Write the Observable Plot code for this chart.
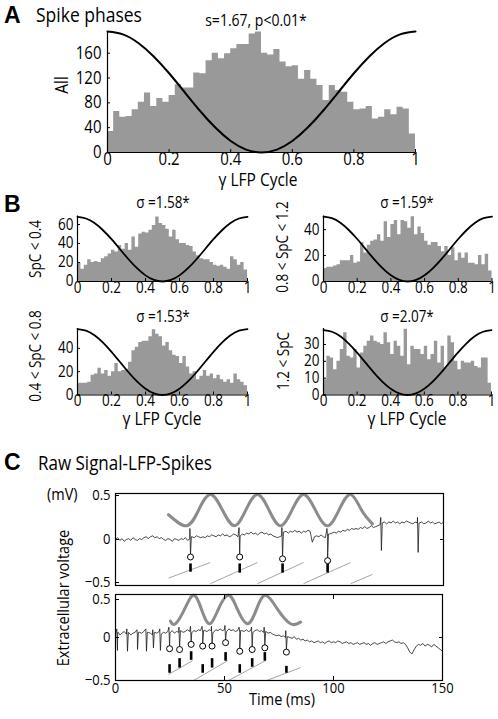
<!DOCTYPE html>
<html><head><meta charset="utf-8">
<script src="https://cdn.jsdelivr.net/npm/d3@7"></script>
<script src="https://cdn.jsdelivr.net/npm/@observablehq/plot@0.6"></script>
<style>
body{margin:0;background:#fff;}
#fig{position:relative;width:498px;height:719px;overflow:hidden;background:#fff;}
#fig svg{position:absolute;left:0;}
</style></head><body><div id="fig"></div>
<script>
// ---------------- DATA ----------------
const phaseTicks = [0, 0.2, 0.4, 0.6, 0.8, 1];
// Panel A: spike phase histogram (50 bins), all spikes
const countsAll = [34,66,57,58,69,81,96,74,87,81,92,109,104,104,128,127,148,160,151,159,167,174,174,191,194,160,157,166,146,138,140,118,132,118,108,84,108,100,97,81,69,70,74,54,57,69,61,73,70,30];
const ticksAll = [0, 40, 80, 120, 160];
// Panel B histograms
const countsSpC04 = [20,13,17,23,20,21,20,24,26,29,33,31,38,34,40,33,47,36,50,52,51,54,59,68,61,59,55,47,54,44,40,40,38,37,31,27,24,23,23,20,17,16,17,15,13,26,23,17,20,12];
const countsSpC0812 = [10,11,11,12,13,16,16,16,20,14,15,30,22,28,31,32,36,31,46,34,44,47,36,47,46,41,50,36,42,37,31,28,30,30,27,23,27,20,26,16,22,18,22,14,14,13,20,13,21,8];
const countsSpC0408 = [10,10,10,11,17,18,23,18,21,16,20,27,20,21,22,28,38,41,45,46,46,50,56,52,50,42,45,38,34,33,27,33,24,18,20,13,16,21,16,18,14,17,13,11,13,10,18,13,11,8];
const countsSpC12 = [9,23,22,15,20,27,37,23,22,27,16,25,29,32,35,32,31,30,37,31,24,32,29,23,39,18,29,27,27,24,29,21,24,32,19,29,16,35,31,20,15,20,19,19,20,17,16,22,22,7];
const ticksSpC04 = [0, 20, 40, 60];
const ticksSpC0812 = [0, 20, 40];
const ticksSpC0408 = [0, 20, 40];
const ticksSpC12 = [0, 10, 20, 30];
// reference gamma cycle curve, read at phase steps of 0.05 (relative height)
const cycleShape = [1,0.976,0.905,0.794,0.655,0.5,0.345,0.206,0.095,0.024,0,0.024,0.095,0.206,0.345,0.5,0.655,0.794,0.905,0.976,1];
const cyclePeaks = {all: 195, spc04: 68, spc0812: 50, spc0408: 56.5, spc12: 38.5};

// Panel C, top: raw signal (hundredths of mV, 1 ms steps, 0..150 ms)
const rawTop = [0,2,-1,1,-2,0,1,-1,2,0,-1,1,0,2,3,1,3,4,2,3,1,2,0,-1,1,0,-2,1,0,-1,1,0,2,-1,1,3,2,4,3,2,3,2,4,3,5,4,3,5,4,6,4,5,3,4,6,5,3,4,6,5,7,6,8,6,7,5,7,8,6,7,5,6,4,3,2,3,4,8,9,7,9,8,10,8,9,7,9,8,10,9,-3,3,4,3,5,3,2,3,6,7,8,7,9,8,10,9,11,10,12,11,12,11,13,12,14,12,13,15,13,14,15,16,18,19,17,19,18,20,18,19,17,19,18,20,19,18,17,19,18,18,19,17,18,20,18,19,17,18,19,17,19];
const spikeTopT  = [34.3, 56.8, 76.4, 97.0, 121.6, 138.4];
const spikeTopHi = [0.12, 0.13, 0.13, 0.12, 0.24, 0.24];
const spikeTopLo = [-0.16, -0.16, -0.18, -0.2, -0.12, -0.14];
const markTopT   = [34.3, 56.8, 76.4, 97.0];
const markTopV   = [-0.19, -0.19, -0.21, -0.23];
const barTopLo   = [-0.35, -0.36, -0.36, -0.36];
const barTopHi   = [-0.26, -0.26, -0.26, -0.26];
const lfpTopT = [24.2,32.5,38,43.4,48.9,54.4,59.6,64.9,70.2,75.4,80.7,86.0,91.4,96.9,102.2,107.5,112.5,117.5];
const lfpTopV = [0.27,0.15,0.32,0.49,0.32,0.15,0.32,0.49,0.32,0.15,0.32,0.49,0.32,0.15,0.32,0.49,0.32,0.17];
const rampTopT0 = [24.2, 43.4, 64.9, 86.0, 107.5];
const rampTopV0 = [-0.42, -0.48, -0.48, -0.48, -0.48];
const rampTopT1 = [43.4, 64.9, 86.0, 107.5, 117.5];
const rampTopV1 = [-0.25, -0.25, -0.25, -0.25, -0.38];

// Panel C, bottom
const rawBot = [4,6,3,5,7,4,6,3,5,6,4,6,5,7,4,6,5,3,6,5,7,4,6,5,7,6,8,5,7,6,8,6,7,9,7,6,8,7,9,8,6,8,7,9,8,6,9,8,10,8,9,7,10,8,9,7,8,6,8,7,9,7,8,6,8,9,7,8,6,7,5,6,4,3,2,3,1,2,0,1,0,-1,1,-2,-1,-3,-2,-4,-3,-5,-4,-6,-5,-4,-6,-5,-7,-5,-4,-6,-5,-6,-4,-5,-7,-6,-5,-7,-6,-8,-7,-6,-8,-7,-6,-8,-7,-9,-7,-6,-8,-7,-6,-5,-7,-5,-4,-3,-5,-6,-5,-7,-6,-8,-12,-17,-19,-14,-10,-8,-9,-7,-10,-8,-9,-11,-8,-10,-12,-14,-16];
const spikeBotT  = [0.9, 5.5, 10.1, 14.2, 17.4, 20.6, 24.8, 29.4, 34.7, 40.0, 44.3, 50.5, 57.0, 62.7, 68.5, 78.4];
const spikeBotHi = [0.1, 0.1, 0.09, 0.1, 0.09, 0.1, 0.12, 0.12, 0.13, 0.13, 0.13, 0.14, 0.12, 0.12, 0.12, 0.08];
const spikeBotLo = [-0.15, -0.16, -0.14, -0.16, -0.12, -0.15, -0.1, -0.11, -0.05, -0.07, -0.07, -0.03, -0.13, -0.11, -0.09, -0.14];
const markBotT   = [24.8, 29.4, 34.7, 40.0, 44.3, 50.5, 57.0, 62.7, 68.5, 78.4];
const markBotV   = [-0.13, -0.14, -0.08, -0.1, -0.1, -0.06, -0.16, -0.14, -0.12, -0.17];
const barBotLo   = [-0.41, -0.35, -0.26, -0.41, -0.35, -0.27, -0.41, -0.34, -0.27, -0.41];
const barBotHi   = [-0.31, -0.24, -0.16, -0.31, -0.24, -0.17, -0.31, -0.24, -0.17, -0.33];
const lfpBotT = [25.2,27.5,31.7,35.8,39.4,43.1,47.2,51.8,55.9,60.6,64.7,68.8,74.3,80.3,84.9];
const lfpBotV = [0.19,0.16,0.33,0.49,0.33,0.16,0.33,0.49,0.33,0.16,0.33,0.49,0.33,0.16,0.18];
const rampBotT0 = [24.3, 35.8, 51.8, 69.3];
const rampBotV0 = [-0.43, -0.5, -0.5, -0.5];
const rampBotT1 = [35.3, 51.4, 68.8, 84.9];
const rampBotV1 = [-0.27, -0.27, -0.27, -0.35];
const timeTicks = [0, 50, 100, 150];
const voltTicks = [-0.5, 0, 0.5];

// ---------------- DRAW ----------------
const W = 498;
const fig = document.getElementById("fig");
const FONT = '"Open Sans", sans-serif';

function place(svg, top) {
  svg.style.position = "absolute";
  svg.style.left = "0px";
  svg.style.top = top + "px";
  svg.style.overflow = "visible";
  svg.style.background = "transparent";
  fig.append(svg);
}
function histPoints(counts) {
  const n = counts.length;
  const pts = counts.map((v, i) => ({x: i / n, v}));
  pts.push({x: 1, v: counts[n - 1]});
  return pts;
}
function cyclePoints(peak) {
  const m = cycleShape.length - 1;
  return cycleShape.map((s, i) => ({x: i / m, v: s * peak}));
}
function histPanel(p) {
  const svg = Plot.plot({
    width: W, height: p.height,
    marginLeft: p.mL, marginRight: p.mR, marginTop: p.mT, marginBottom: p.mB,
    x: {domain: [0, 1], label: null},
    y: {domain: [0, p.yMax], label: null},
    style: {fontFamily: FONT, fontSize: p.fs + "px", color: "#000"},
    marks: [
      Plot.areaY(histPoints(p.counts), {x: "x", y: "v", curve: "step-after", fill: "#999999"}),
      Plot.line(cyclePoints(p.peak), {x: "x", y: "v", curve: "natural", stroke: "#000", strokeWidth: p.lw}),
      Plot.ruleX([0], {stroke: "#000", strokeWidth: 1.2}),
      Plot.ruleY([0], {stroke: "#000", strokeWidth: 1.2}),
      Plot.axisX({ticks: phaseTicks, tickSize: -3, tickPadding: p.xPad + 3, tickFormat: d => String(d), label: null}),
      Plot.axisY({ticks: p.yTicks, tickSize: -3, tickPadding: p.yPad + 3, tickFormat: d => String(d), label: null})
    ]
  });
  place(svg, p.top);
}

histPanel({counts: countsAll, peak: cyclePeaks.all, yMax: 195, yTicks: ticksAll, top: 0, height: 190, mL: 107, mR: 83, mT: 31, mB: 38, fs: 15, xPad: 0, yPad: 6, lw: 2});
histPanel({counts: countsSpC04, peak: cyclePeaks.spc04, yMax: 69, yTicks: ticksSpC04, top: 190, height: 130, mL: 77, mR: 251, mT: 25.5, mB: 39, fs: 13.5, xPad: 0, yPad: 4, lw: 1.8});
histPanel({counts: countsSpC0812, peak: cyclePeaks.spc0812, yMax: 50.5, yTicks: ticksSpC0812, top: 190, height: 130, mL: 323, mR: 6.5, mT: 25.5, mB: 39, fs: 13.5, xPad: 0, yPad: 4, lw: 1.8});
histPanel({counts: countsSpC0408, peak: cyclePeaks.spc0408, yMax: 57, yTicks: ticksSpC0408, top: 320, height: 110, mL: 77, mR: 251, mT: 8, mB: 35.5, fs: 13.5, xPad: 0, yPad: 4, lw: 1.8});
histPanel({counts: countsSpC12, peak: cyclePeaks.spc12, yMax: 39.5, yTicks: ticksSpC12, top: 320, height: 110, mL: 323, mR: 7, mT: 8, mB: 35.5, fs: 13.5, xPad: 0, yPad: 4, lw: 1.8});

function tracePoints(raw, T, Hi, Lo) {
  const pts = raw.map((v, i) => ({t: i, v: v / 100}));
  T.forEach((t, k) => {
    const back = raw[Math.min(raw.length - 1, Math.round(t + 0.5))] / 100;
    pts.push({t: t - 0.3, v: Hi[k]}, {t: t, v: Lo[k]}, {t: t + 0.4, v: back});
  });
  pts.sort((a, b) => a.t - b.t);
  return pts;
}
const fmtV = d => d === 0 ? "0" : d > 0 ? String(d) : "\u2212" + String(Math.abs(d));

function signalPanel(p) {
  const lfp = p.lfpT.map((t, i) => ({t, v: p.lfpV[i]}));
  const ramps = p.r0t.map((t, i) => ({t0: t, v0: p.r0v[i], t1: p.r1t[i], v1: p.r1v[i]}));
  const bars = p.markT.map((t, i) => ({t, lo: p.barLo[i], hi: p.barHi[i]}));
  const marks = p.markT.map((t, i) => ({t, v: p.markV[i]}));
  const m = [
    Plot.link(ramps, {x1: "t0", y1: "v0", x2: "t1", y2: "v1", stroke: "#9a9a9a", strokeWidth: 0.9}),
    Plot.link(bars, {x1: "t", x2: "t", y1: "lo", y2: "hi", stroke: "#000", strokeWidth: 2.6}),
    Plot.line(lfp, {x: "t", y: "v", curve: "natural", stroke: "#8c8c8c", strokeWidth: 3}),
    Plot.line(tracePoints(p.raw, p.spT, p.spHi, p.spLo), {x: "t", y: "v", stroke: "#1a1a1a", strokeWidth: 0.8}),
    Plot.dot(marks, {x: "t", y: "v", r: 3, stroke: "#000", fill: "#fff", strokeWidth: 1}),
    Plot.frame({stroke: "#000", strokeWidth: 1.2}),
    Plot.axisY({ticks: [0.5], tickSize: -4, tickPadding: 9, dy: p.dyTop, tickFormat: fmtV, label: null}),
    Plot.axisY({ticks: [0], tickSize: -4, tickPadding: 9, tickFormat: fmtV, label: null}),
    Plot.axisY({ticks: [-0.5], tickSize: -4, tickPadding: 9, dy: p.dyBot, tickFormat: fmtV, label: null}),
    Plot.axisY({anchor: "right", ticks: [0], tickSize: -4, tickFormat: () => "", label: null})
  ];
  if (p.xAxis) {
    m.push(Plot.axisX({ticks: timeTicks, tickSize: -4, tickPadding: 6, tickFormat: d => String(d), label: null}));
    m.push(Plot.axisX({anchor: "top", ticks: [50, 100], tickSize: -4, tickFormat: () => "", label: null}));
  }
  const svg = Plot.plot({
    width: W, height: p.height,
    marginLeft: 115, marginRight: p.mR, marginTop: p.mT, marginBottom: p.mB,
    x: {domain: [0, 150], label: null, axis: p.xAxis ? undefined : null},
    y: {domain: [-0.5, 0.5], label: null},
    style: {fontFamily: FONT, fontSize: "13px", color: "#000"},
    marks: m
  });
  place(svg, p.top);
}
signalPanel({raw: rawTop, spT: spikeTopT, spHi: spikeTopHi, spLo: spikeTopLo, markT: markTopT, markV: markTopV, barLo: barTopLo, barHi: barTopHi,
  lfpT: lfpTopT, lfpV: lfpTopV, r0t: rampTopT0, r0v: rampTopV0, r1t: rampTopT1, r1v: rampTopV1,
  top: 480, height: 110, mR: 55, mT: 13, mB: 5, xAxis: false, dyTop: 2, dyBot: -3});
signalPanel({raw: rawBot, spT: spikeBotT, spHi: spikeBotHi, spLo: spikeBotLo, markT: markBotT, markV: markBotV, barLo: barBotLo, barHi: barBotHi,
  lfpT: lfpBotT, lfpV: lfpBotV, r0t: rampBotT0, r0v: rampBotV0, r1t: rampBotT1, r1v: rampBotV1,
  top: 590, height: 129, mR: 56, mT: 4, mB: 39, xAxis: true, dyTop: 5, dyBot: 0});

// ---------------- TEXT OVERLAY ----------------
const LETTER = '"Liberation Sans", Arial, sans-serif';
const texts = [
  {s: "A", x: 4, y: 23, size: 23, bold: true, fam: LETTER},
  {s: "Spike phases", x: 36, y: 22, size: 17.5},
  {s: "s=1.67, p<0.01*", x: 256, y: 26, size: 14, anchor: "middle"},
  {s: "All", x: 68, y: 85, size: 15.5, anchor: "middle", rot: true},
  {s: "\u03b3 LFP Cycle", x: 258, y: 186, size: 15.5, anchor: "middle"},
  {s: "B", x: 4, y: 212, size: 23, bold: true, fam: LETTER},
  {s: "\u03c3 =1.58*", x: 163, y: 208, size: 13.5, anchor: "middle"},
  {s: "\u03c3 =1.59*", x: 407, y: 208, size: 13.5, anchor: "middle"},
  {s: "\u03c3 =1.53*", x: 163, y: 322, size: 13.5, anchor: "middle"},
  {s: "\u03c3 =2.07*", x: 407, y: 322, size: 13.5, anchor: "middle"},
  {s: "SpC < 0.4", x: 41, y: 249, size: 13.5, anchor: "middle", rot: true},
  {s: "0.8 < SpC < 1.2", x: 288, y: 247, size: 13.5, anchor: "middle", rot: true},
  {s: "0.4 < SpC < 0.8", x: 41, y: 356, size: 13.5, anchor: "middle", rot: true},
  {s: "1.2 < SpC", x: 289, y: 361, size: 13.5, anchor: "middle", rot: true},
  {s: "\u03b3 LFP Cycle", x: 162, y: 425, size: 15.5, anchor: "middle"},
  {s: "\u03b3 LFP Cycle", x: 407, y: 425, size: 15.5, anchor: "middle"},
  {s: "C", x: 4, y: 470, size: 23, bold: true, fam: LETTER},
  {s: "Raw Signal-LFP-Spikes", x: 38, y: 470, size: 17},
  {s: "(mV)", x: 47, y: 500, size: 14.5},
  {s: "Extracellular voltage", x: 69, y: 598, size: 14.5, anchor: "middle", rot: true},
  {s: "Time (ms)", x: 282, y: 705, size: 14.5, anchor: "middle"}
];
const overlay = d3.create("svg").attr("width", W).attr("height", 719)
  .style("position", "absolute").style("left", "0px").style("top", "0px").style("overflow", "visible");
overlay.selectAll("text").data(texts).join("text")
  .attr("class", d => d.bold ? "letter" : null)
  .attr("transform", d => `translate(${d.x},${d.y})` + (d.rot ? " rotate(-90)" : ""))
  .attr("text-anchor", d => d.anchor || "start")
  .attr("font-family", d => d.fam || FONT)
  .attr("font-size", d => d.size)
  .attr("font-weight", d => d.bold ? "bold" : "normal")
  .attr("fill", "#000")
  .text(d => d.s);
fig.append(overlay.node());

// The reference lettering is narrow and tall: keep each text's width, enlarge its height.
const K = 1.15;
fig.querySelectorAll("text").forEach(t => {
  if (t.classList.contains("letter") || !t.textContent.trim()) return;
  const len = t.getComputedTextLength();
  const fs = parseFloat(getComputedStyle(t).fontSize);
  t.style.fontSize = (fs * K) + "px";
  t.setAttribute("textLength", len.toFixed(2));
  t.setAttribute("lengthAdjust", "spacingAndGlyphs");
});
</script></body></html>
